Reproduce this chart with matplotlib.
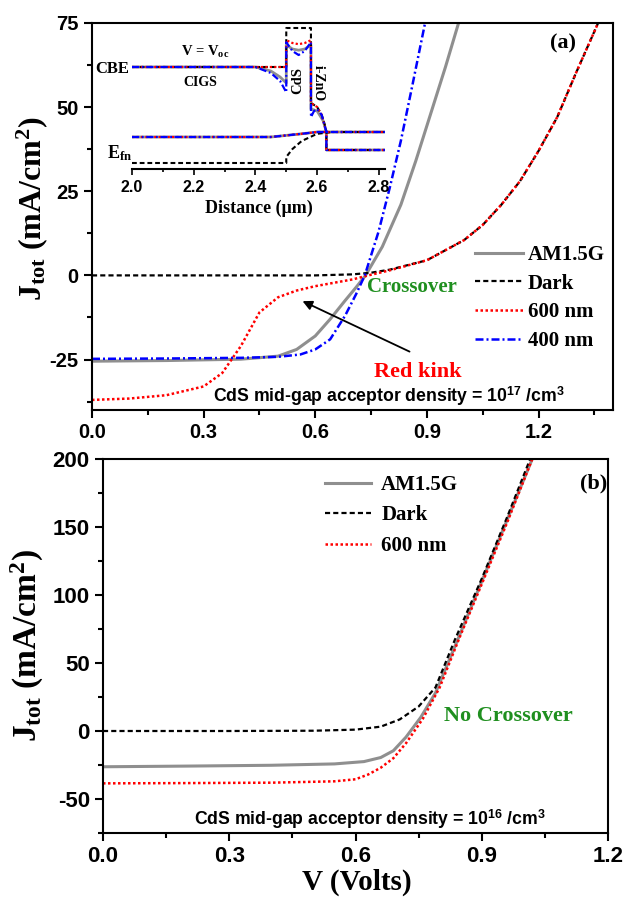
import matplotlib
matplotlib.use("Agg")
import matplotlib.pyplot as plt
from matplotlib.ticker import MultipleLocator, FormatStrFormatter
from matplotlib.font_manager import FontProperties

plt.rcParams['font.family'] = 'Liberation Sans'
plt.rcParams['font.weight'] = 'bold'
plt.rcParams['axes.unicode_minus'] = False
plt.rcParams['mathtext.fontset'] = 'custom'
plt.rcParams['mathtext.rm'] = 'Liberation Serif:bold'
plt.rcParams['mathtext.it'] = 'Liberation Serif:bold'
plt.rcParams['mathtext.bf'] = 'Liberation Serif:bold'
plt.rcParams['mathtext.sf'] = 'Liberation Sans:bold'

# ---- panel (a): CdS acceptor density 1e17 ----
a_am_v = [0, 0.2, 0.4, 0.5, 0.55, 0.6, 0.64, 0.68, 0.71, 0.735, 0.78, 0.83, 0.87, 0.91, 0.95, 0.985]
a_am_j = [-25.5, -25.3, -24.9, -24.0, -22.0, -18.0, -13.0, -7.5, -3.5, 0, 8.5, 21, 34, 48, 62, 75]
a_dark_v = [0, 0.3, 0.6, 0.7, 0.75, 0.8, 0.9, 1.0, 1.05, 1.1, 1.15, 1.2, 1.25, 1.3, 1.36]
a_dark_j = [0, 0, 0, 0.3, 0.8, 1.7, 4.5, 10.5, 15, 21, 28, 37, 47, 60, 75]
a_red_v = [0, 0.1, 0.2, 0.3, 0.35, 0.4, 0.45, 0.5, 0.55, 0.6, 0.65, 0.7, 0.75, 0.8, 0.9,
           1.0, 1.05, 1.1, 1.15, 1.2, 1.25, 1.3, 1.36]
a_red_j = [-37, -36.6, -35.6, -33, -29, -21, -11, -6.5, -4.5, -3.2, -2.2, -1.2, 0.2, 1.5, 4.5,
           10.5, 15, 21, 28, 37, 47, 60, 75]
a_blue_v = [0, 0.2, 0.4, 0.5, 0.56, 0.6, 0.64, 0.68, 0.71, 0.733, 0.77, 0.8, 0.83, 0.86, 0.895]
a_blue_j = [-24.8, -24.7, -24.5, -24.2, -23.5, -22, -19, -12, -5.5, 0, 13, 26, 40, 56, 75]

# ---- inset: band diagram near the junction ----
in_black_x = [2.0, 2.5, 2.5, 2.58, 2.58, 2.6, 2.615, 2.625, 2.63, 2.63, 2.82]
in_black_e = [2.55, 2.55, 3.525, 3.525, 1.65, 1.55, 1.35, 1.1, 0.925, 0.475, 0.475]
in_black_fn_x = [2.0, 2.5, 2.5, 2.52, 2.55, 2.6, 2.65, 2.82]
in_black_fn_e = [0.15, 0.15, 0.3, 0.5, 0.7, 0.88, 0.925, 0.925]
in_gray_x = [2.0, 2.4, 2.45, 2.48, 2.5, 2.5, 2.52, 2.54, 2.56, 2.58, 2.58, 2.6, 2.62, 2.63, 2.63, 2.82]
in_gray_e = [2.55, 2.55, 2.45, 2.3, 2.15, 3.1, 3.0, 2.97, 3.0, 3.1, 1.5, 1.45, 1.2, 0.925, 0.475, 0.475]
in_blue_x = [2.0, 2.4, 2.45, 2.48, 2.5, 2.5, 2.52, 2.54, 2.56, 2.58, 2.58, 2.59, 2.6, 2.615, 2.63, 2.63, 2.82]
in_blue_e = [2.55, 2.55, 2.4, 2.2, 1.92, 3.17, 2.95, 2.85, 2.95, 3.17, 1.3, 1.45, 1.5, 1.35, 0.925, 0.475, 0.475]
in_red_x = [2.0, 2.5, 2.5, 2.52, 2.54, 2.56, 2.58, 2.58, 2.6, 2.615, 2.63, 2.63, 2.82]
in_red_e = [2.55, 2.55, 3.22, 3.15, 3.12, 3.15, 3.22, 1.65, 1.55, 1.35, 0.925, 0.475, 0.475]
in_fn_x = [2.0, 2.45, 2.55, 2.6, 2.82]
in_fn_e = [0.8, 0.8, 0.88, 0.925, 0.925]

# ---- panel (b): CdS acceptor density 1e16 ----
b_am_v = [0, 0.2, 0.4, 0.55, 0.62, 0.66, 0.69, 0.72, 0.755, 0.79, 0.84, 0.9, 0.96, 1.02]
b_am_j = [-26.3, -25.8, -25.2, -24.2, -22.5, -19.5, -14.5, -4.5, 10, 28, 65, 110, 155, 200]
b_dark_v = [0, 0.3, 0.5, 0.6, 0.66, 0.705, 0.75, 0.79, 0.836, 0.9, 0.96, 1.015]
b_dark_j = [0, 0, 0.2, 1, 3.2, 8.5, 18, 32, 67, 112, 157, 200]
b_red_v = [0, 0.2, 0.4, 0.55, 0.6, 0.63, 0.66, 0.69, 0.72, 0.76, 0.8, 0.845, 0.9, 0.96, 1.02]
b_red_j = [-38.5, -38.3, -38, -37, -35.5, -32, -27, -20, -9, 9, 32, 67, 108, 153, 200]

GRAY = '#8f8f8f'
GREEN = '#1f8f1f'
serif = 'Liberation Serif'

sty_am = dict(color=GRAY, lw=2.2, ls='-')
sty_dark = dict(color='black', lw=1.6, ls=(0, (2.3, 1.4)))
sty_red = dict(color='red', lw=1.8, ls=(0, (1, 1)))
sty_blue = dict(color='#0000ff', lw=1.8, ls=(0, (3.2, 1.2, 0.8, 1.2)))


def style_axes(ax, size):
    for sp in ax.spines.values():
        sp.set_linewidth(1.5)
    ax.tick_params(which='both', direction='out', width=1.5, labelsize=size,
                   top=False, right=False)
    ax.tick_params(which='major', length=6)
    ax.tick_params(which='minor', length=3.5)


fig = plt.figure(figsize=(6.26, 9), dpi=100)

# ===== panel (a) =====
ax1 = fig.add_axes([92 / 626, 1 - 410 / 900, 521 / 626, 387 / 900])
ax1.plot(a_am_v, a_am_j, label='AM1.5G', **sty_am)
ax1.plot(a_dark_v, a_dark_j, label='Dark', **sty_dark)
ax1.plot(a_red_v, a_red_j, label='600 nm', **sty_red)
ax1.plot(a_blue_v, a_blue_j, label='400 nm', **sty_blue)
ax1.set_xlim(0, 1.4)
ax1.set_ylim(-40, 75)
ax1.xaxis.set_major_locator(MultipleLocator(0.3))
ax1.xaxis.set_minor_locator(MultipleLocator(0.15))
ax1.yaxis.set_major_locator(MultipleLocator(25))
ax1.yaxis.set_minor_locator(MultipleLocator(12.5))
ax1.xaxis.set_major_formatter(FormatStrFormatter('%.1f'))
style_axes(ax1, 14.5)
ax1.set_ylabel(r'J$_{\rm tot}$ (mA/cm$^{\rm 2}$)', fontfamily=serif, fontweight='bold', fontsize=23)
ax1.yaxis.set_label_coords(-0.08, 0.52)

ax1.legend(loc='upper left', bbox_to_anchor=(475 / 626, 1 - 245 / 900), bbox_transform=fig.transFigure,
           frameon=False, prop=FontProperties(family=serif, weight='bold', size=15),
           handlelength=2.3, handletextpad=0.25, labelspacing=0.42, borderpad=0, borderaxespad=0)

ax1.text(1.265, 68.8, '(a)', fontfamily=serif, fontweight='bold', fontsize=16, ha='center', va='center')
ax1.text(0.86, -3.4, 'Crossover', color=GREEN, fontfamily=serif, fontweight='bold', fontsize=15,
         ha='center', va='center')
ax1.text(0.876, -28.7, 'Red kink', color='red', fontfamily=serif, fontweight='bold', fontsize=16,
         ha='center', va='center')
ax1.annotate('', xy=(0.559, -7.3), xytext=(0.86, -23),
             arrowprops=dict(arrowstyle='-|>', color='black', lw=1.3, mutation_scale=14))
ax1.text(0.325, -36, r'CdS mid-gap acceptor density = 10$^{\mathsf{17}}$ /cm$^{\mathsf{3}}$',
         fontsize=12.7, fontweight='bold', ha='left', va='center')

# ===== inset =====
axi = fig.add_axes([132 / 626, 1 - 169 / 900, 253 / 626, 146 / 900])
axi.patch.set_visible(False)
axi.plot(in_gray_x, in_gray_e, color=GRAY, lw=2.0)
axi.plot(in_fn_x, in_fn_e, color=GRAY, lw=2.0)
axi.plot(in_black_x, in_black_e, color='black', lw=1.5, ls=(0, (2.3, 1.4)))
axi.plot(in_black_fn_x, in_black_fn_e, color='black', lw=1.5, ls=(0, (2.3, 1.4)))
axi.plot(in_red_x, in_red_e, color='red', lw=1.6, ls=(0, (1, 1)))
axi.plot(in_fn_x, in_fn_e, color='red', lw=1.6, ls=(0, (1, 1)))
axi.plot(in_blue_x, in_blue_e, color='#0000ff', lw=1.6, ls=(0, (3.2, 1.2, 0.8, 1.2)))
axi.plot(in_fn_x, in_fn_e, color='#0000ff', lw=1.6, ls=(0, (3.2, 1.2, 0.8, 1.2)))
axi.set_xlim(2.0, 2.82)
axi.set_ylim(0, 3.65)
for s in ('top', 'right', 'left'):
    axi.spines[s].set_visible(False)
axi.spines['bottom'].set_linewidth(1.5)
axi.set_yticks([])
axi.xaxis.set_major_locator(MultipleLocator(0.2))
axi.xaxis.set_minor_locator(MultipleLocator(0.1))
axi.xaxis.set_major_formatter(FormatStrFormatter('%.1f'))
axi.tick_params(which='both', direction='out', width=1.2, labelsize=11.5, pad=4)
axi.tick_params(which='major', length=4)
axi.tick_params(which='minor', length=2.5)
axi.set_xlabel('Distance (\u03bcm)', fontfamily=serif, fontweight='bold', fontsize=13, labelpad=3)

axi.text(1.935, 2.5, 'CBE', fontfamily=serif, fontweight='bold', fontsize=12, ha='center', va='center')
axi.text(2.237, 2.93, r'V = V$_{\rm oc}$', fontfamily=serif, fontweight='bold', fontsize=10.5,
         ha='center', va='center')
axi.text(2.221, 2.15, 'CIGS', fontfamily=serif, fontweight='bold', fontsize=10, ha='center', va='center')
axi.text(2.537, 2.22, 'CdS', fontfamily=serif, fontweight='bold', fontsize=10.5, rotation=90,
         ha='center', va='center')
axi.text(2.605, 2.15, 'i-ZnO', fontfamily=serif, fontweight='bold', fontsize=10, rotation=-90,
         ha='center', va='center')
axi.text(1.961, 0.4, r'E$_{\rm fn}$', fontfamily=serif, fontweight='bold', fontsize=13,
         ha='center', va='center')

# ===== panel (b) =====
ax2 = fig.add_axes([103 / 626, 1 - 833 / 900, 505 / 626, 374 / 900])
ax2.plot(b_am_v, b_am_j, label='AM1.5G', **sty_am)
ax2.plot(b_dark_v, b_dark_j, label='Dark', **sty_dark)
ax2.plot(b_red_v, b_red_j, label='600 nm', **sty_red)
ax2.set_xlim(0, 1.2)
ax2.set_ylim(-75, 200)
ax2.xaxis.set_major_locator(MultipleLocator(0.3))
ax2.xaxis.set_minor_locator(MultipleLocator(0.15))
ax2.yaxis.set_major_locator(MultipleLocator(50))
ax2.yaxis.set_minor_locator(MultipleLocator(25))
ax2.xaxis.set_major_formatter(FormatStrFormatter('%.1f'))
style_axes(ax2, 16)
ax2.set_ylabel(r'J$_{\rm tot}$ (mA/cm$^{\rm 2}$)', fontfamily=serif, fontweight='bold', fontsize=24)
ax2.yaxis.set_label_coords(-0.112, 0.50)
ax2.set_xlabel('V (Volts)', fontfamily=serif, fontweight='bold', fontsize=21)
ax2.xaxis.set_label_coords(0.503, -0.095)

ax2.legend(loc='upper left', bbox_to_anchor=(325 / 626, 1 - 475 / 900), bbox_transform=fig.transFigure,
           frameon=False, prop=FontProperties(family=serif, weight='bold', size=15),
           handlelength=2.2, handletextpad=0.5, labelspacing=0.5, borderpad=0, borderaxespad=0)

ax2.text(1.166, 181.8, '(b)', fontfamily=serif, fontweight='bold', fontsize=16, ha='center', va='center')
ax2.text(0.964, 11, 'No Crossover', color=GREEN, fontfamily=serif, fontweight='bold', fontsize=16,
         ha='center', va='center')
ax2.text(0.216, -65, r'CdS mid-gap acceptor density = 10$^{\mathsf{16}}$ /cm$^{\mathsf{3}}$',
         fontsize=12.7, fontweight='bold', ha='left', va='center')

fig.savefig('out.png', dpi=100)
